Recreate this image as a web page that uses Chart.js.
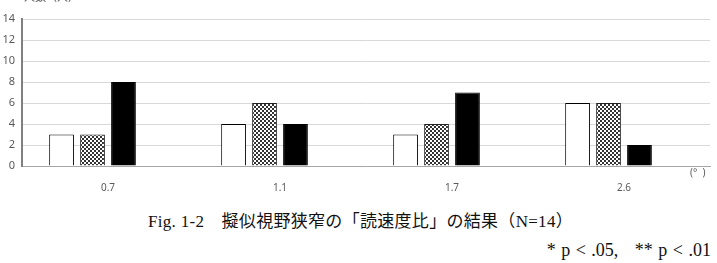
<!DOCTYPE html>
<html>
<head>
<meta charset="utf-8">
<script src="https://cdn.jsdelivr.net/npm/chart.js@4"></script>
<style>
  html, body { margin: 0; padding: 0; background: #fff; }
  #wrap { position: relative; width: 717px; height: 263px; overflow: hidden; }
  #box { position: absolute; left: 0; top: 0; width: 717px; height: 200px; }
  .cap { position: absolute; font-family: "Liberation Serif", "Noto Sans CJK JP", serif; color: #111; white-space: nowrap; }
  #fig { left: 148px; top: 207px; font-size: 17px; letter-spacing: 0.3px; }
  #sig { right: 6px; top: 240px; font-size: 18px; word-spacing: 1px; }
</style>
</head>
<body>
<div id="wrap">
  <div id="box"><canvas id="chart"></canvas></div>
  <div class="cap" id="fig">Fig. 1-2　擬似視野狭窄の「読速度比」の結果（N=14）</div>
  <div class="cap" id="sig">* p &lt; .05,&nbsp;&nbsp; ** p &lt; .01</div>
</div>
<script>
const categories = ['0.7', '1.1', '1.7', '2.6'];
const seriesA = [3, 4, 3, 6];   // white
const seriesB = [3, 6, 4, 6];   // checkered
const seriesC = [8, 4, 7, 2];   // black
const seriesD = [null, null, null, null]; // empty slot kept by the original layout
const yTicks = [0, 2, 4, 6, 8, 10, 12, 14];

function checker() {
  const c = document.createElement('canvas');
  c.width = 4; c.height = 4;
  const g = c.getContext('2d');
  g.fillStyle = '#ffffff';
  g.fillRect(0, 0, 4, 4);
  g.fillStyle = '#333333';
  g.fillRect(0, 0, 2, 2);
  g.fillRect(2, 2, 2, 2);
  return g.createPattern(c, 'repeat');
}

const extras = {
  id: 'extras',
  afterDraw(chart) {
    const { ctx, chartArea } = chart;
    ctx.save();
    ctx.fillStyle = '#595959';
    ctx.font = '11px "Noto Sans CJK JP", "Noto Sans", sans-serif';
    ctx.textBaseline = 'middle';
    ctx.fillText('人数（人）', 24, -3);
    ctx.font = '10px "Noto Sans", sans-serif';
    ctx.fillText('(°  )', chartArea.right - 20, chartArea.bottom + 7);
    ctx.restore();
  }
};

new Chart(document.getElementById('chart'), {
  type: 'bar',
  data: {
    labels: categories,
    datasets: [
      { data: seriesA, backgroundColor: '#ffffff', borderColor: '#000', borderWidth: 1 },
      { data: seriesB, backgroundColor: checker(), borderColor: '#222', borderWidth: 1 },
      { data: seriesC, backgroundColor: '#000000', borderColor: '#000', borderWidth: 1 },
      { data: seriesD, backgroundColor: '#ffffff', borderWidth: 0 },
    ],
  },
  options: {
    responsive: true,
    maintainAspectRatio: false,
    animation: false,
    devicePixelRatio: 1,
    categoryPercentage: 0.72,
    barPercentage: 0.8,
    layout: { padding: { top: 19, right: 7, left: 0, bottom: 0 } },
    plugins: { legend: { display: false }, tooltip: { enabled: false } },
    scales: {
      x: {
        grid: { display: false },
        border: { color: '#a6a6a6', width: 1 },
        ticks: { color: '#595959', font: { size: 10, family: '"Noto Sans", sans-serif' }, padding: 8 },
        afterFit(axis) { axis.height = 34; },
      },
      y: {
        min: 0,
        max: 14,
        afterBuildTicks(axis) { axis.ticks = yTicks.map((v) => ({ value: v })); },
        grid: { color: '#d9d9d9', drawTicks: false },
        border: { color: '#808080', width: 2 },
        ticks: { color: '#595959', font: { size: 11, family: '"Noto Sans", sans-serif' }, padding: 7 },
        afterFit(axis) { axis.width = 22; },
      },
    },
  },
  plugins: [extras],
});
</script>
</body>
</html>
